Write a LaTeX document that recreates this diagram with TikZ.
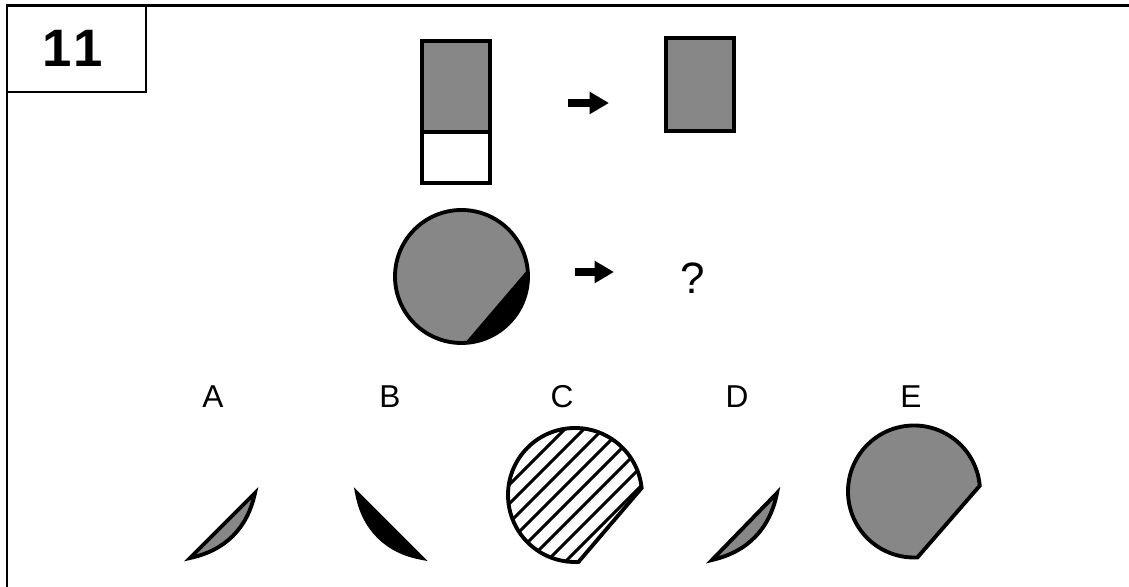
\documentclass[tikz,border=0pt]{standalone}
\usepackage{fontspec}
\setmainfont{Liberation Sans}
\usetikzlibrary{arrows.meta}
\tikzset{
  fig/.style={draw=black,line width=2.2pt},
  dots/.style={fill=black!47},
  hatch/.style={line width=1.7pt},
  go/.style={line width=4.5pt,-{Triangle[length=11pt,width=12pt]}},
  letter/.style={font=\fontsize{18}{20}\selectfont},
}

\begin{document}
\begin{tikzpicture}[x=0.02cm,y=0.02cm]
\useasboundingbox (0,0) rectangle (1129,587);
% frame and the number box
\draw[line width=1.7pt] (1129,581) -- (7,581) -- (7,0);
\draw[line width=1.5pt] (7,581) rectangle (146,495);
\node[font=\fontsize{30}{33}\selectfont\bfseries] (num) at (73,539) {1\kern1pt1};
% first pair: the bar loses its white part
\filldraw[fig,dots] (422,455) rectangle (490,546);
\draw[fig] (422,404) rectangle (490,455);
\filldraw[fig,dots] (666,456) rectangle (734,549);
\coordinate (a1) at (568,484);
\coordinate (a2) at (609,484);
\draw[go] (a1) -- (a2);
% second pair: disc with a black cap
\coordinate (disc) at (461.5,310.5);
\fill[black!47] (disc) circle (66.5);
\fill (disc) ++(6:66.5) arc[start angle=6,end angle=-87,radius=66.5] -- cycle;
\draw[fig] (disc) circle (66.5);
\coordinate (b1) at (575,315);
\coordinate (b2) at (614,315);
\draw[go] (b1) -- (b2);
\node[font=\fontsize{25}{27}\selectfont] (ask) at (693,309) {?};
% the five answers
\foreach \l/\x in {A/213,B/390,C/562,D/737,E/911}
  {\node[letter] (lbl\l) at (\x,190) {\l};}
\filldraw[fig,dots] (255,94) -- (190,29) to[bend right=33] (255,94) -- cycle;
\filldraw[fig,fill=black] (357,94) to[bend right=35] (422,29) -- cycle;
\coordinate (cC) at (575,92);
\begin{scope}
\clip (cC) ++(6:67) arc[start angle=6,end angle=273,radius=67] -- cycle;
\foreach \k in {-5,...,5}
  {\draw[hatch,shift={(cC)}] (\k*19-90,-90) -- ++(180,180);}
\end{scope}
\draw[fig] (cC) ++(6:67) arc[start angle=6,end angle=273,radius=67] -- cycle;
\filldraw[fig,dots] (777,94) -- (712,27) to[bend right=33] (777,94) -- cycle;
\filldraw[fig,dots] (914,95.5) ++(5:66) arc[start angle=5,end angle=273,radius=66] -- cycle;
\end{tikzpicture}
\end{document}
